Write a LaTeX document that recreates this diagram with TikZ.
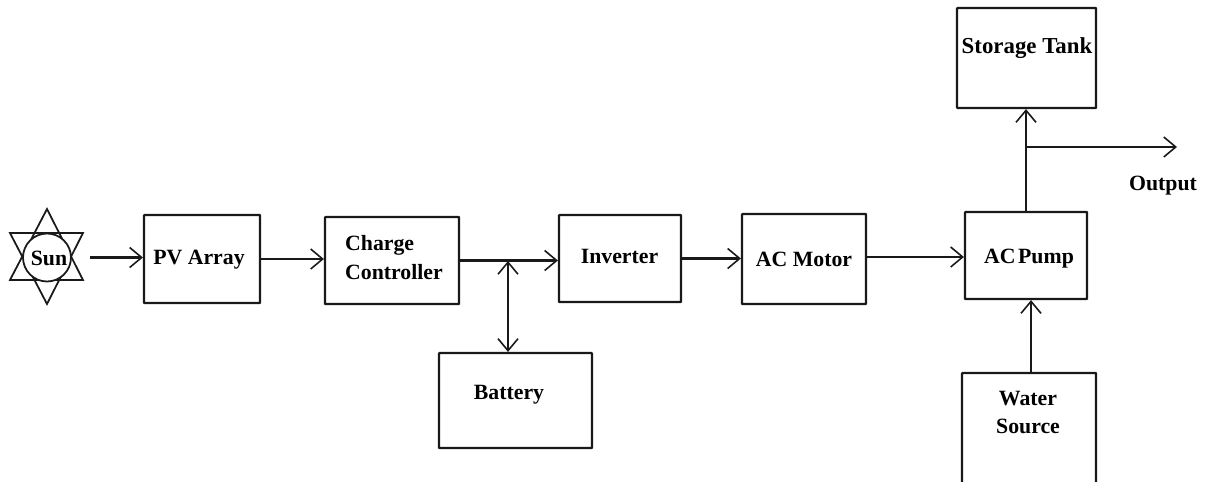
\documentclass[tikz,border=0pt]{standalone}
\usepackage{fontspec}
\setmainfont{Liberation Serif}
\usetikzlibrary{arrows.meta}
\tikzset{
    block/.style={draw=black!90, line width=1.25pt, rounded corners=0.3pt, inner sep=0pt},
    lbl/.style={font=\fontsize{12.4}{16.3}\selectfont\bfseries, text=black, inner sep=0pt, align=center},
    arr/.style={draw=black!90, line width=1.25pt, -{Straight Barb[length=0.24cm,width=0.4cm,line width=0.9pt]}},
    darr/.style={draw=black!90, line width=1.25pt, {Straight Barb[length=0.24cm,width=0.4cm,line width=0.9pt]}-{Straight Barb[length=0.24cm,width=0.4cm,line width=0.9pt]}},
}
\begin{document}
\begin{tikzpicture}[x=0.02cm, y=-0.02cm]
    \clip (0, 0) rectangle (1211, 481);
    % sun
    \draw[draw=black!90, line width=1pt] (47, 209) -- (83, 280) -- (10, 280) -- cycle;
    \draw[draw=black!90, line width=1pt] (47, 304) -- (83, 233) -- (10, 233) -- cycle;
    \node[circle, draw=black!90, line width=1pt, fill=white, minimum size=0.96cm, inner sep=0pt] (sun) at (47, 257.5) {};
    \node[lbl] (sunlbl) at (49, 258.5) {Sun};
    % blocks
    \node[block, minimum width=2.32cm, minimum height=1.76cm] (pv) at (202, 259) {};
    \node[block, minimum width=2.68cm, minimum height=1.74cm] (cc) at (392, 260.5) {};
    \node[block, minimum width=2.44cm, minimum height=1.74cm] (inv) at (620, 258.5) {};
    \node[block, minimum width=2.48cm, minimum height=1.80cm] (motor) at (804, 259) {};
    \node[block, minimum width=2.44cm, minimum height=1.74cm] (pump) at (1026, 255.5) {};
    \node[block, minimum width=3.06cm, minimum height=1.90cm] (bat) at (515.5, 400.5) {};
    \node[block, minimum width=2.78cm, minimum height=2.00cm] (tank) at (1026.5, 58) {};
    \node[block, minimum width=2.68cm, minimum height=2.60cm] (water) at (1029, 438) {};
    % labels
    \node[lbl] (pvlbl) at (199, 260) {PV Array};
    \node[lbl, align=left] (cclbl) at (394, 257.5) {Charge\\Controller};
    \node[lbl] (invlbl) at (619.5, 256) {Inverter};
    \node[lbl] (motorlbl) at (804, 259) {AC Motor};
    \node[lbl] (pumplbl) at (1029, 259) {AC\kern1.5pt Pump};
    \node[lbl] (batlbl) at (509, 395) {Battery};
    \node[lbl, font=\fontsize{13}{16.3}\selectfont\bfseries] (tanklbl) at (1027, 48) {Storage Tank};
    \node[lbl] (waterlbl) at (1028, 412.5) {Water\\Source};
    \node[lbl] (outlbl) at (1163, 186) {Output};
    % connectors
    \coordinate (sunout) at (90, 257.5);
    \coordinate (tap) at (1026, 147);
    \coordinate (out) at (1177, 147);
    \coordinate (batin) at (508, 261);
    \draw[arr] (sunout) -- (sunout -| pv.west);
    \draw[arr] (pv.east) -- (pv.east -| cc.west);
    \draw[arr] (cc.east) -- (cc.east -| inv.west);
    \draw[arr] (inv.east) -- (inv.east -| motor.west);
    \draw[arr] (motor.east) ++(0, -2) coordinate (motorout) -- (motorout -| pump.west);
    \draw[arr] (pump.north) -- (pump.north |- tank.south);
    \draw[arr] (tap) -- (out);
    \draw[arr] (1031, 373) coordinate (waterout) -- (waterout |- pump.south);
    \draw[darr] (batin) -- (batin |- bat.north);
\end{tikzpicture}
\end{document}
